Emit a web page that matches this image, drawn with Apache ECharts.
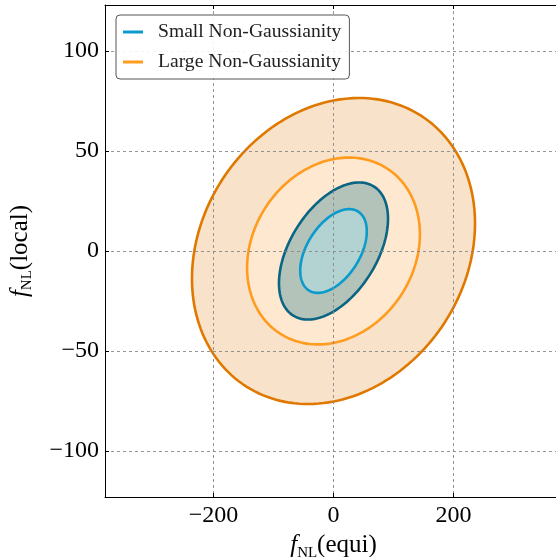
<!DOCTYPE html>
<html>
<head>
<meta charset="utf-8">
<script src="https://cdn.jsdelivr.net/npm/echarts@6/dist/echarts.min.js"></script>
<style>
html,body{margin:0;padding:0;background:#fff;overflow:hidden;}
#c{width:556px;height:557px;}
</style>
</head>
<body>
<div id="c"></div>
<script>
// ---- data (Fisher-forecast ellipses) ----
const groupNames = ['Large Non-Gaussianity', 'Small Non-Gaussianity'];
const centerX = [0, 0];
const centerY = [0, 0];
const sigmaEqui = [95, 36.6];     // 1-parameter sigma of fNL(equi)
const sigmaLocal = [30.8, 13.8];  // 1-parameter sigma of fNL(local)
const correlation = [0.18, 0.47];
const deltaChi2 = [2.30, 6.17];   // 68% and 95% contour levels
const xTicks = [-200, 0, 200];
const yTicks = [-100, -50, 0, 50, 100];
const xRange = [-381, 381];
const yRange = [-123, 123];

// ---- styles ----
const lineColors = [['#ff9b1f', '#e07800'], ['#0a9acb', '#0a6483']];
const fillColors = [['#fee8cf', '#f8e2c9'], ['#b3d3d3', '#b4c3b9']];
const FONT = 'Liberation Serif';

function contour(g, lvl) {
  const k = Math.sqrt(deltaChi2[lvl]);
  const r = correlation[g];
  const pts = [];
  const N = 180;
  for (let i = 0; i < N; i++) {
    const t = 2 * Math.PI * i / N;
    pts.push([
      centerX[g] + k * sigmaEqui[g] * Math.cos(t),
      centerY[g] + k * sigmaLocal[g] * (r * Math.cos(t) + Math.sqrt(1 - r * r) * Math.sin(t))
    ]);
  }
  return pts;
}

function makeSeries(g, lvl, z) {
  const pts = contour(g, lvl);
  const name = lvl === 0 ? groupNames[g] : groupNames[g] + ' 2sigma';
  return {
    type: 'custom',
    name: name,
    z: z,
    silent: true,
    coordinateSystem: 'cartesian2d',
    itemStyle: { color: lineColors[g][lvl] },
    data: [pts[0]],
    encode: { x: 0, y: 1 },
    renderItem: function (params, api) {
      return {
        type: 'polygon',
        shape: { points: pts.map(p => api.coord(p)) },
        style: { fill: fillColors[g][lvl], stroke: lineColors[g][lvl], lineWidth: 2.6 }
      };
    }
  };
}

const fmt = v => (v < 0 ? '\u2212' + Math.abs(v) : String(v));
const nameRich = {
  i: { fontFamily: FONT, fontStyle: 'italic', fontSize: 25, color: '#000', lineHeight: 30 },
  s: { fontFamily: FONT, fontSize: 15, color: '#000', verticalAlign: 'bottom', lineHeight: 30, padding: [12, 0, 0, 0] },
  n: { fontFamily: FONT, fontSize: 25, color: '#000', lineHeight: 30 }
};

const chart = echarts.init(document.getElementById('c'), null, { renderer: 'canvas' });
chart.setOption({
  animation: false,
  backgroundColor: '#fff',
  grid: { left: 105, top: 5, width: 457, height: 492, outerBoundsMode: 'none', containLabel: false, show: false },
  legend: {
    z: 20,
    left: 116, top: 15,
    orient: 'vertical',
    backgroundColor: 'rgba(255,255,255,0.9)',
    borderColor: '#555', borderWidth: 1, borderRadius: 4,
    padding: [7, 8, 7, 7],
    itemGap: 10,
    itemWidth: 20, itemHeight: 3,
    icon: 'rect',
    textStyle: { fontFamily: FONT, fontSize: 19.6, color: '#222', lineHeight: 20, padding: [0, 0, 0, 10] },
    data: [groupNames[1], groupNames[0]]
  },
  xAxis: [{
    type: 'value', position: 'bottom', z: 10,
    min: xRange[0], max: xRange[1],
    name: '{i|f}{s|NL}{n|(equi)}',
    nameLocation: 'middle', nameGap: 32,
    nameTextStyle: { rich: nameRich, align: 'center' },
    axisLine: { show: true, onZero: false, lineStyle: { color: '#000', width: 1 } },
    axisTick: { show: true, inside: true, length: 4, customValues: xTicks, lineStyle: { color: '#000' } },
    axisLabel: { customValues: xTicks, formatter: fmt, fontFamily: FONT, fontSize: 24, color: '#000', margin: 7 },
    splitLine: { show: true, lineStyle: { color: '#888', type: [3, 3], width: 0.9 } }
  }, {
    type: 'value', position: 'top', z: 10,
    min: xRange[0], max: xRange[1],
    axisLine: { show: true, onZero: false, lineStyle: { color: '#000', width: 1 } },
    axisTick: { show: true, inside: true, length: 4, customValues: xTicks, lineStyle: { color: '#000' } },
    axisLabel: { show: false },
    splitLine: { show: false }
  }],
  yAxis: [{
    type: 'value', position: 'left', z: 10,
    min: yRange[0], max: yRange[1],
    name: '{i|f}{s|NL}{n|(local)}',
    nameLocation: 'middle', nameGap: 70,
    nameTextStyle: { rich: nameRich },
    axisLine: { show: true, onZero: false, lineStyle: { color: '#000', width: 1 } },
    axisTick: { show: true, inside: true, length: 4, customValues: yTicks, lineStyle: { color: '#000' } },
    axisLabel: { customValues: yTicks, formatter: fmt, fontFamily: FONT, fontSize: 24, color: '#000', margin: 6 },
    splitLine: { show: true, lineStyle: { color: '#888', type: [3, 3], width: 0.9 } }
  }],
  series: [
    makeSeries(0, 1, 1),
    makeSeries(0, 0, 2),
    makeSeries(1, 1, 3),
    makeSeries(1, 0, 4)
  ]
});
</script>
</body>
</html>
